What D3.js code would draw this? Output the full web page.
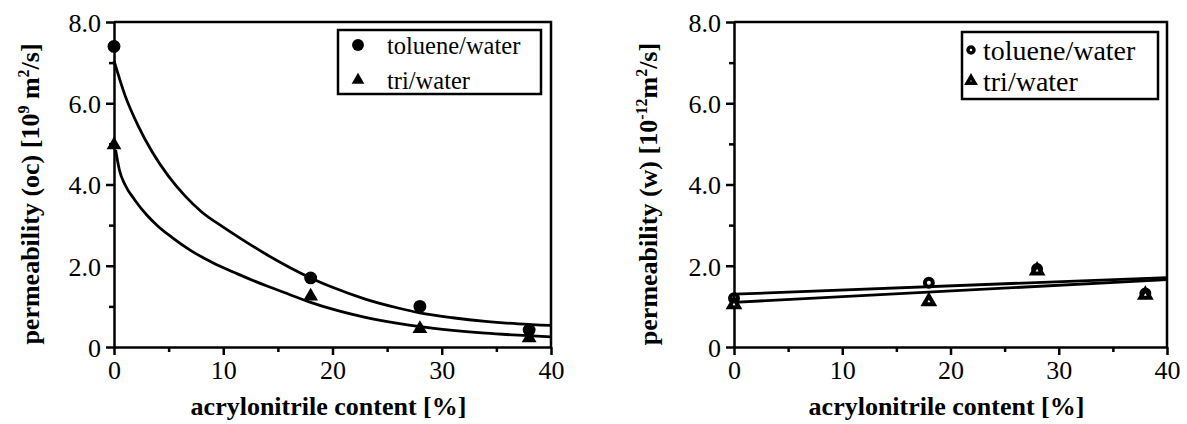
<!DOCTYPE html>
<html>
<head>
  <meta charset="utf-8">
  <title>permeability vs acrylonitrile content</title>
  <style>
  body { margin: 0; background: #fff; }
  .axis text { font-size: 26px; }
  .axis path, .axis line { stroke: #000; stroke-width: 2.5px; }
  .title { font-size: 26px; font-weight: bold; }
  .fit { fill: none; stroke: #000; stroke-width: 2.8px; }
  </style>
</head>
<body>
  <svg width="1187" height="424"></svg>
  <script src="https://d3js.org/d3.v7.min.js"></script>
  <script>
  // x positions of the measurements [% acrylonitrile]
  var content = [0, 18, 28, 38];

  // left panel: organic component permeability [10^9 m2/s]
  var ocToluene = [7.4, 1.7, 1.0, 0.42];
  var ocTri = [4.97, 1.25, 0.45, 0.22];
  // fitted curves
  var ocTolueneFitX = [0, 1, 2.2, 3.5, 5, 6.5, 8, 10, 12, 14, 16, 18, 20, 23, 26, 28, 31, 34, 37, 40];
  var ocTolueneFitY = [7.05, 6.2, 5.45, 4.8, 4.2, 3.72, 3.33, 2.95, 2.6, 2.27, 1.97, 1.7, 1.47, 1.18, 0.96, 0.84, 0.72, 0.63, 0.57, 0.53];
  var ocTriFitX = [0.15, 0.5, 1, 1.9, 3, 4, 5.3, 7, 9, 11.3, 14, 16, 18, 20, 23, 26, 28, 31, 34, 37, 40];
  var ocTriFitY = [4.85, 4.35, 4.0, 3.62, 3.25, 2.98, 2.7, 2.38, 2.08, 1.8, 1.5, 1.3, 1.1, 0.93, 0.73, 0.58, 0.5, 0.41, 0.34, 0.29, 0.25];

  // right panel: water permeability [10^-12 m2/s]
  var wToluene = [1.2, 1.58, 1.92, 1.32];
  var wTri = [1.05, 1.12, 1.88, 1.28];
  var wFitX = [0, 40];
  var wTolueneFitY = [1.3, 1.71];
  var wTriFitY = [1.1, 1.66];

  var yTicks = [0, 2, 4, 6, 8];
  var yMinor = [1, 3, 5, 7];
  var xTicks = [0, 10, 20, 30, 40];
  var xMinor = [5, 15, 25, 35];

  var serif = "'Liberation Serif', 'DejaVu Serif', 'Times New Roman', serif";
  var svg = d3.select("svg");

  function zip(xs, ys) {
    return xs.map(function(x, i) { return {x: x, y: ys[i]}; });
  }

  function panel(opt) {
    var x = d3.scaleLinear().domain([0, 40]).range([opt.left, opt.right]);
    var y = d3.scaleLinear().domain([0, 8]).range([347, 22]);
    var g = svg.append("g");

    // minor ticks
    g.append("g").attr("class", "axis")
      .attr("transform", "translate(0,347)")
      .call(d3.axisBottom(x).tickValues(xMinor).tickSize(5).tickSizeOuter(0).tickFormat(""))
      .select(".domain").remove();
    g.append("g").attr("class", "axis")
      .attr("transform", "translate(" + opt.left + ",0)")
      .call(d3.axisLeft(y).tickValues(yMinor).tickSize(5).tickSizeOuter(0).tickFormat(""))
      .select(".domain").remove();

    // major axes
    g.append("g").attr("class", "axis")
      .attr("transform", "translate(0,347)")
      .call(d3.axisBottom(x).tickValues(xTicks).tickSize(8).tickSizeOuter(0).tickPadding(6));
    g.append("g").attr("class", "axis")
      .attr("transform", "translate(" + opt.left + ",0)")
      .call(d3.axisLeft(y).tickValues(yTicks).tickSize(8).tickSizeOuter(0).tickPadding(5)
        .tickFormat(function(d) { return d === 0 ? "0" : d3.format(".1f")(d); }))
      .selectAll("text").attr("dy", "0.36em");

    // top and right frame
    g.append("path")
      .attr("d", "M" + x(0) + "," + y(8) + "H" + x(40) + "V" + y(0))
      .attr("fill", "none").attr("stroke", "#000").attr("stroke-width", 2.5);

    var line = d3.line()
      .x(function(d) { return x(d.x); })
      .y(function(d) { return y(d.y); })
      .curve(d3.curveMonotoneX);

    opt.fits.forEach(function(f) {
      g.append("path").datum(f).attr("class", "fit").attr("d", line);
    });

    var circ = d3.symbol().type(d3.symbolCircle).size(opt.filled ? 130 : 50);
    var tri = d3.symbol().type(d3.symbolTriangle).size(opt.filled ? 95 : 42);

    function marks(vals, sym) {
      g.selectAll(null).data(zip(content, vals)).enter().append("path")
        .attr("d", sym)
        .attr("transform", function(d) { return "translate(" + x(d.x) + "," + y(d.y) + ")"; })
        .attr("fill", opt.filled ? "#000" : "#fff")
        .attr("stroke", "#000")
        .attr("stroke-width", opt.filled ? 0 : 4);
    }
    marks(opt.toluene, circ);
    marks(opt.tri, tri);

    // legend
    var lcirc = d3.symbol().type(d3.symbolCircle).size(opt.filled ? 110 : 28);
    var ltri = d3.symbol().type(d3.symbolTriangle).size(opt.filled ? 70 : 26);
    var lg = g.append("g");
    lg.append("rect")
      .attr("x", opt.leg.x).attr("y", opt.leg.y)
      .attr("width", opt.leg.w).attr("height", opt.leg.h)
      .attr("fill", "#fff").attr("stroke", "#000").attr("stroke-width", 2.5);
    [["toluene/water", lcirc], ["tri/water", ltri]].forEach(function(e, i) {
      var cy = opt.leg.y + opt.leg.row0 + i * opt.leg.dy;
      lg.append("path").attr("d", e[1])
        .attr("transform", "translate(" + opt.leg.mx + "," + cy + ")")
        .attr("fill", opt.filled ? "#000" : "#fff")
        .attr("stroke", "#000").attr("stroke-width", opt.filled ? 0 : 3.5);
      lg.append("text")
        .attr("x", opt.leg.tx).attr("y", cy + opt.leg.fs * 0.35)
        .style("font-size", opt.leg.fs + "px")
        .text(e[0]);
    });

    // axis titles
    g.append("text").attr("class", "title")
      .attr("x", (opt.left + opt.right) / 2 - 4).attr("y", 415)
      .attr("text-anchor", "middle")
      .text("acrylonitrile content [%]");

    var yt = g.append("text").attr("class", "title")
      .attr("transform", "translate(" + opt.ytx + ",194) rotate(-90)")
      .attr("text-anchor", "middle");
    opt.ytitle.forEach(function(p) {
      var t = yt.append("tspan").text(p[0]);
      if (p[1] === "sup") t.attr("dy", -10).style("font-size", "16px");
      if (p[1] === "base") t.attr("dy", 10);
    });
  }

  panel({
    left: 114, right: 551, filled: true,
    toluene: ocToluene, tri: ocTri,
    fits: [zip(ocTolueneFitX, ocTolueneFitY), zip(ocTriFitX, ocTriFitY)],
    leg: {x: 338, y: 30, w: 203, h: 64, row0: 15, dy: 35, mx: 358, tx: 387, fs: 24.5},
    ytx: 39,
    ytitle: [["permeability (oc) [10"], ["9", "sup"], ["  m", "base"], ["2", "sup"], ["/s]", "base"]]
  });

  panel({
    left: 734, right: 1167, filled: false,
    toluene: wToluene, tri: wTri,
    fits: [zip(wFitX, wTolueneFitY), zip(wFitX, wTriFitY)],
    leg: {x: 962, y: 32, w: 196, h: 67, row0: 18, dy: 31, mx: 971, tx: 983, fs: 28},
    ytx: 657,
    ytitle: [["permeability (w) [10"], ["-12", "sup"], ["m", "base"], ["2", "sup"], ["/s]", "base"]]
  });

  // every label in a Times-like face, set inline so it beats the axis defaults
  svg.selectAll("text").style("font-family", serif).attr("fill", "#000");
  </script>
</body>
</html>
